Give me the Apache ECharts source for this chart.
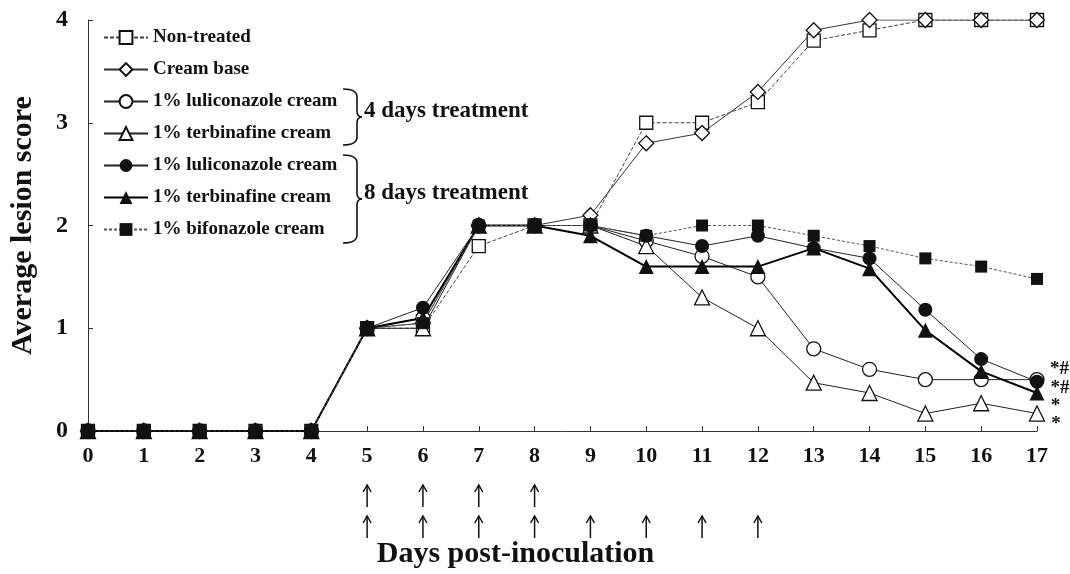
<!DOCTYPE html>
<html>
<head>
<meta charset="utf-8">
<script src="https://cdn.jsdelivr.net/npm/echarts@6/dist/echarts.min.js"></script>
<style>
  html, body { margin: 0; padding: 0; background: #fff; }
  #chart { width: 1070px; height: 574px; }
</style>
</head>
<body>
<div id="chart"></div>
<script>
'use strict'

// days post-inoculation
var days = [0, 1, 2, 3, 4, 5, 6, 7, 8, 9, 10, 11, 12, 13, 14, 15, 16, 17];
var yTicks = [0, 1, 2, 3, 4];

// average lesion score per group
var nonTreated   = [0, 0, 0, 0, 0, 1, 1.0, 1.8, 2, 2.0, 3.0, 3.0, 3.2, 3.8, 3.9, 4, 4, 4];
var creamBase    = [0, 0, 0, 0, 0, 1, 1.05, 2.0, 2, 2.1, 2.8, 2.9, 3.3, 3.9, 4.0, 4, 4, 4];
var luli4        = [0, 0, 0, 0, 0, 1, 1.1, 2.0, 2, 2.0, 1.85, 1.7, 1.5, 0.8, 0.6, 0.5, 0.5, 0.5];
var terb4        = [0, 0, 0, 0, 0, 1, 1.0, 2.0, 2, 2.0, 1.8, 1.3, 1.0, 0.47, 0.37, 0.17, 0.27, 0.17];
var luli8        = [0, 0, 0, 0, 0, 1, 1.2, 2.0, 2, 2.0, 1.9, 1.8, 1.9, 1.78, 1.68, 1.18, 0.7, 0.48];
var terb8        = [0, 0, 0, 0, 0, 1, 1.1, 2.0, 2, 1.9, 1.6, 1.6, 1.6, 1.78, 1.58, 0.98, 0.58, 0.37];
var bifo8        = [0, 0, 0, 0, 0, 1, 1.05, 2.0, 2, 2.0, 1.9, 2.0, 2.0, 1.9, 1.8, 1.68, 1.6, 1.48];

// treatment days (arrows under the axis)
var treat4Days = [5, 6, 7, 8];
var treat8Days = [5, 6, 7, 8, 9, 10, 11, 12];

// significance marks at day 17
var sigLuli8 = '*#';
var sigTerb8 = '*#';
var sigLuli4 = '*';
var sigTerb4 = '*';

var serif = '"Liberation Serif", "Times New Roman", serif';

function pairs(vals, mark, offset) {
    return vals.map(function (v, i) {
        var item = { value: [days[i], v] };
        if (mark && i === vals.length - 1) {
            item.label = {
                show: true, formatter: mark, position: 'right', offset: offset, distance: 2,
                fontFamily: serif, fontWeight: 'bold', fontSize: 19, color: '#111'
            };
        }
        return item;
    });
}

function mkSeries(name, vals, symbol, size, filled, line, mark, offset) {
    return {
        name: name,
        type: 'line',
        data: pairs(vals, mark, offset),
        symbol: symbol,
        symbolSize: size,
        showAllSymbol: true,
        itemStyle: {
            color: filled ? '#111' : '#fff',
            borderColor: '#111',
            borderWidth: filled ? 0 : 1.3
        },
        lineStyle: line,
        emphasis: { disabled: true }
    };
}

var chart = echarts.init(document.getElementById('chart'));

var option = {
    animation: false,
    backgroundColor: '#fff',
    grid: { left: 83, right: 33, top: 20, bottom: 141 },
    legend: {
        orient: 'vertical',
        left: 98,
        top: 23,
        itemWidth: 44,
        itemHeight: 16,
        itemGap: 13,
        textStyle: { fontFamily: serif, fontWeight: 'bold', fontSize: 19, color: '#111' },
        formatter: function (name) { return name.replace(/ \(.*\)$/, ''); }
    },
    xAxis: {
        type: 'value',
        min: 0, max: 17, interval: 1,
        name: 'Days post-inoculation',
        nameLocation: 'middle',
        nameGap: 108,
        nameTextStyle: { fontFamily: serif, fontWeight: 'bold', fontSize: 30, color: '#111', padding: [0, 94, 0, 0] },
        axisLine: { lineStyle: { color: '#333', width: 1 } },
        axisTick: { inside: true, length: 5, lineStyle: { color: '#333' } },
        axisLabel: { fontFamily: serif, fontWeight: 'bold', fontSize: 22, color: '#111', margin: 14 },
        splitLine: { show: false }
    },
    yAxis: {
        type: 'value',
        min: 0, max: 4, interval: 1,
        name: 'Average lesion score',
        nameLocation: 'middle',
        nameGap: 50,
        nameTextStyle: { fontFamily: serif, fontWeight: 'bold', fontSize: 30, color: '#111' },
        axisLine: { show: true, lineStyle: { color: '#333', width: 1 } },
        axisTick: { show: true, inside: true, length: 5, lineStyle: { color: '#333' } },
        axisLabel: {
            fontFamily: serif, fontWeight: 'bold', fontSize: 24, color: '#111', margin: 20,
            formatter: function (v) { return yTicks.indexOf(v) >= 0 ? String(v) : ''; }
        },
        splitLine: { show: false }
    },
    series: [
        mkSeries('Non-treated', nonTreated, 'rect', 13, false, { color: '#444', width: 1, type: [4, 2] }),
        mkSeries('Cream base', creamBase, 'diamond', 15, false, { color: '#333', width: 1 }),
        mkSeries('1% luliconazole cream (4 days)', luli4, 'circle', 14, false, { color: '#222', width: 1 }, sigLuli4, [4, 26]),
        mkSeries('1% terbinafine cream (4 days)', terb4, 'triangle', 15, false, { color: '#222', width: 1 }, sigTerb4, [4, 11]),
        mkSeries('1% luliconazole cream (8 days)', luli8, 'circle', 14, true, { color: '#222', width: 1 }, sigLuli8, [4, -13]),
        mkSeries('1% terbinafine cream (8 days)', terb8, 'triangle', 15, true, { color: '#000', width: 2 }, sigTerb8, [4, -5]),
        mkSeries('1% bifonazole cream (8 days)', bifo8, 'rect', 12, true, { color: '#555', width: 1, type: [3, 2] })
    ]
};

chart.setOption(option);

// braces, group labels and treatment arrows
function brace(x0, x1, tip, yTop, yBot) {
    var ym = (yTop + yBot) / 2;
    var st = { stroke: '#111', lineWidth: 1.6, fill: null };
    return [
        { type: 'bezierCurve', shape: { x1: x0, y1: yTop, cpx1: x1, cpy1: yTop, x2: x1, y2: yTop + 8 }, style: st },
        { type: 'line', shape: { x1: x1, y1: yTop + 8, x2: x1, y2: ym - 6 }, style: st },
        { type: 'bezierCurve', shape: { x1: x1, y1: ym - 6, cpx1: x1, cpy1: ym, x2: tip, y2: ym }, style: st },
        { type: 'bezierCurve', shape: { x1: tip, y1: ym, cpx1: x1, cpy1: ym, x2: x1, y2: ym + 6 }, style: st },
        { type: 'line', shape: { x1: x1, y1: ym + 6, x2: x1, y2: yBot - 8 }, style: st },
        { type: 'bezierCurve', shape: { x1: x1, y1: yBot - 8, cpx1: x1, cpy1: yBot, x2: x0, y2: yBot }, style: st }
    ];
}

var graphics = [].concat(
    brace(343, 357, 362, 89, 145),
    brace(343, 357, 362, 155, 243),
    [
        { type: 'text', x: 364, y: 111,
          style: { text: '4 days treatment', font: 'bold 23px ' + serif, fill: '#111', verticalAlign: 'middle' } },
        { type: 'text', x: 364, y: 193,
          style: { text: '8 days treatment', font: 'bold 23px ' + serif, fill: '#111', verticalAlign: 'middle' } }
    ]
);

function arrowRow(list, yc) {
    var st = { stroke: '#111', lineWidth: 1.5, fill: null };
    list.forEach(function (d) {
        var x = chart.convertToPixel({ xAxisIndex: 0 }, d);
        graphics.push(
            { type: 'line', shape: { x1: x, y1: yc - 11, x2: x, y2: yc + 11 }, style: st },
            { type: 'polyline', shape: { points: [[x - 4, yc - 4], [x, yc - 11], [x + 4, yc - 4]] }, style: st }
        );
    });
}
arrowRow(treat4Days, 496);
arrowRow(treat8Days, 527);

chart.setOption({ graphic: graphics });
</script>
</body>
</html>
